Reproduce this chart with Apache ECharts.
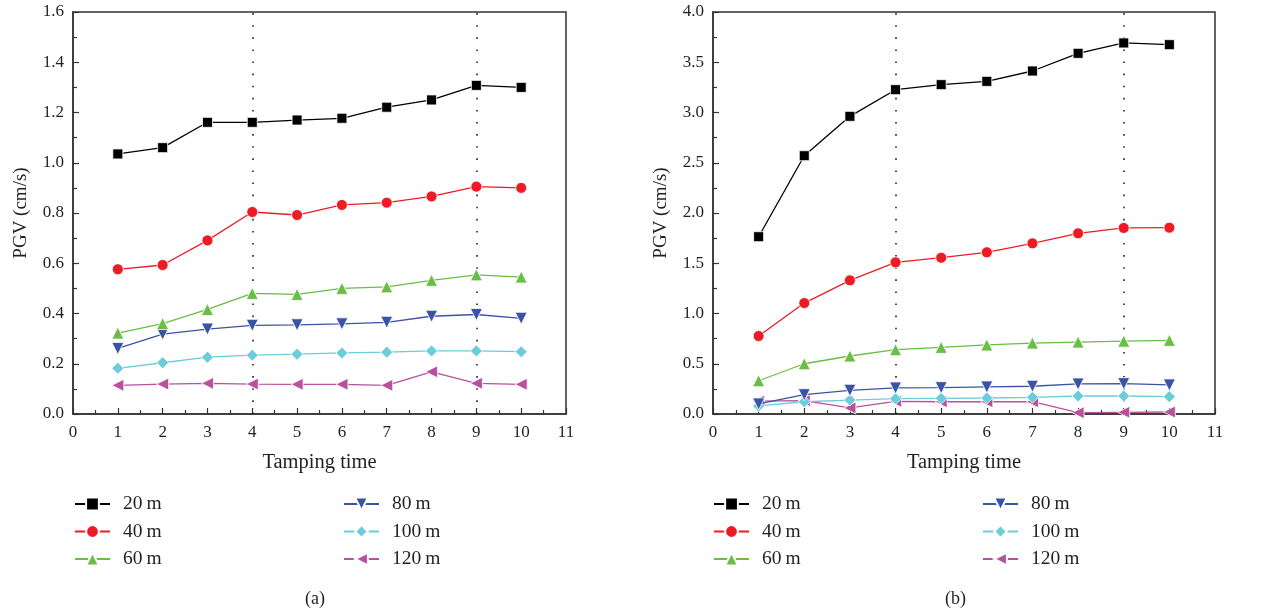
<!DOCTYPE html>
<html>
<head>
<meta charset="utf-8">
<script src="https://cdn.jsdelivr.net/npm/echarts@6/dist/echarts.min.js"></script>
<style>
html,body{margin:0;padding:0;background:#fff;}
#chart{width:1273px;height:616px;}
</style>
</head>
<body>
<div id="chart"></div>
<script>
// ---- data ----
var tampingTimes = [1, 2, 3, 4, 5, 6, 7, 8, 9, 10];
var seriesNames = ['20\u2009m', '40\u2009m', '60\u2009m', '80\u2009m', '100\u2009m', '120\u2009m'];

// Panel (a)
var a20 = [1.035, 1.06, 1.161, 1.161, 1.170, 1.177, 1.221, 1.250, 1.308, 1.300];
var a40 = [0.576, 0.593, 0.691, 0.804, 0.792, 0.832, 0.841, 0.866, 0.905, 0.900];
var a60 = [0.322, 0.360, 0.416, 0.480, 0.476, 0.500, 0.506, 0.532, 0.554, 0.545];
var a80 = [0.261, 0.318, 0.338, 0.353, 0.355, 0.359, 0.365, 0.389, 0.396, 0.381];
var a100 = [0.182, 0.204, 0.226, 0.234, 0.238, 0.243, 0.246, 0.251, 0.251, 0.248];
var a120 = [0.114, 0.119, 0.122, 0.119, 0.118, 0.118, 0.114, 0.168, 0.122, 0.118];

// Panel (b)
var b20 = [1.764, 2.570, 2.962, 3.227, 3.277, 3.310, 3.413, 3.589, 3.692, 3.675];
var b40 = [0.776, 1.104, 1.330, 1.509, 1.555, 1.609, 1.698, 1.798, 1.851, 1.854];
var b60 = [0.331, 0.500, 0.577, 0.640, 0.663, 0.687, 0.706, 0.716, 0.725, 0.733];
var b80 = [0.100, 0.192, 0.236, 0.259, 0.262, 0.269, 0.276, 0.299, 0.302, 0.289];
var b100 = [0.080, 0.122, 0.139, 0.152, 0.156, 0.159, 0.166, 0.179, 0.179, 0.172];
var b120 = [0.129, 0.133, 0.060, 0.126, 0.122, 0.122, 0.122, 0.013, 0.017, 0.020];

var dottedLinesAt = [4, 9];
var panelLabels = ['(a)', '(b)'];

// ---- styles ----
var colors = ['#000000', '#ED1C24', '#6ABD45', '#3A53A4', '#6BCCDA', '#B8509E'];
var symbols = ['rect', 'circle', 'triangle', 'triangle', 'diamond', 'triangle'];
var symbolRot = [0, 0, 0, 180, 0, 90];
var symbolSizes = [10, 11, 12, 12, 12, 12];
var FONT = 'Liberation Serif';
var TXT = '#231F20';

function zip(xs, ys) { return xs.map(function (x, i) { return [x, ys[i]]; }); }

var panelData = [[a20, a40, a60, a80, a100, a120], [b20, b40, b60, b80, b100, b120]];

var series = [];
panelData.forEach(function (arrs, p) {
  arrs.forEach(function (vals, k) {
    var s = {
      name: seriesNames[k],
      type: 'line',
      xAxisIndex: p,
      yAxisIndex: p,
      data: zip(tampingTimes, vals),
      symbol: symbols[k],
      symbolRotate: symbolRot[k],
      symbolSize: symbolSizes[k],
      z: 10 - k,
      lineStyle: { color: colors[k], width: 1.3 },
      itemStyle: { color: colors[k], borderColor: '#ffffff', borderWidth: 0.8 },
      animation: false
    };
    if (k === 0) {
      s.markLine = {
        silent: true,
        symbol: 'none',
        label: { show: false },
        lineStyle: { color: '#222', type: [1.6, 10.5], width: 1.6 },
        data: dottedLinesAt.map(function (x) { return { xAxis: x }; })
      };
    }
    series.push(s);
  });
});

function xAxisCfg(gi) {
  return {
    type: 'value', gridIndex: gi, min: 0, max: 11, interval: 1,
    name: 'Tamping time', nameLocation: 'middle', nameGap: 38,
    nameTextStyle: { fontFamily: FONT, fontSize: 20.5, color: TXT },
    axisLine: { show: true, onZero: false, lineStyle: { color: '#333', width: 1.5 } },
    axisTick: { show: true, inside: true, length: 6, lineStyle: { color: '#333', width: 1.2 } },
    minorTick: { show: true, splitNumber: 2, length: 4, lineStyle: { color: '#333', width: 1.2 } },
    axisLabel: { fontFamily: FONT, fontSize: 17, color: TXT, margin: 10 },
    splitLine: { show: false }
  };
}
function yAxisCfg(gi, max, interval) {
  return {
    type: 'value', gridIndex: gi, min: 0, max: max, interval: interval,
    name: 'PGV (cm/s)', nameLocation: 'middle', nameGap: 42, nameRotate: 90,
    nameTextStyle: { fontFamily: FONT, fontSize: 19, color: TXT },
    axisLine: { show: true, onZero: false, lineStyle: { color: '#333', width: 1.5 } },
    axisTick: { show: true, inside: true, length: 6, lineStyle: { color: '#333', width: 1.2 } },
    minorTick: { show: true, splitNumber: 2, length: 4, lineStyle: { color: '#333', width: 1.2 } },
    axisLabel: { fontFamily: FONT, fontSize: 17, color: TXT, margin: 9,
      formatter: function (v) { return v.toFixed(1); } },
    splitLine: { show: false }
  };
}

function legendCfg(left, names) {
  return {
    left: left, top: 494, orient: 'vertical', padding: 0,
    itemWidth: 35, itemHeight: 16, itemGap: 7.5,
    data: names,
    textStyle: { fontFamily: FONT, fontSize: 19.5, color: TXT, lineHeight: 20, padding: [0, 0, 0, 8] },
    selectedMode: false
  };
}

var option = {
  backgroundColor: '#ffffff',
  animation: false,
  grid: [
    { left: 73, top: 12, width: 493, height: 402, show: true, borderColor: '#333', borderWidth: 1.5, backgroundColor: 'transparent' },
    { left: 713, top: 12, width: 502, height: 402, show: true, borderColor: '#333', borderWidth: 1.5, backgroundColor: 'transparent' }
  ],
  xAxis: [xAxisCfg(0), xAxisCfg(1)],
  yAxis: [yAxisCfg(0, 1.6, 0.2), yAxisCfg(1, 4.0, 0.5)],
  legend: [
    legendCfg(74, seriesNames.slice(0, 3)),
    legendCfg(343, seriesNames.slice(3)),
    legendCfg(713, seriesNames.slice(0, 3)),
    legendCfg(982, seriesNames.slice(3))
  ],
  graphic: [
    { type: 'text', left: 305, top: 590, style: { text: panelLabels[0], font: '18px "Liberation Serif"', fill: TXT } },
    { type: 'text', left: 945, top: 590, style: { text: panelLabels[1], font: '18px "Liberation Serif"', fill: TXT } }
  ],
  series: series
};

var chart = echarts.init(document.getElementById('chart'), null, { renderer: 'canvas' });
chart.setOption(option);
</script>
</body>
</html>
